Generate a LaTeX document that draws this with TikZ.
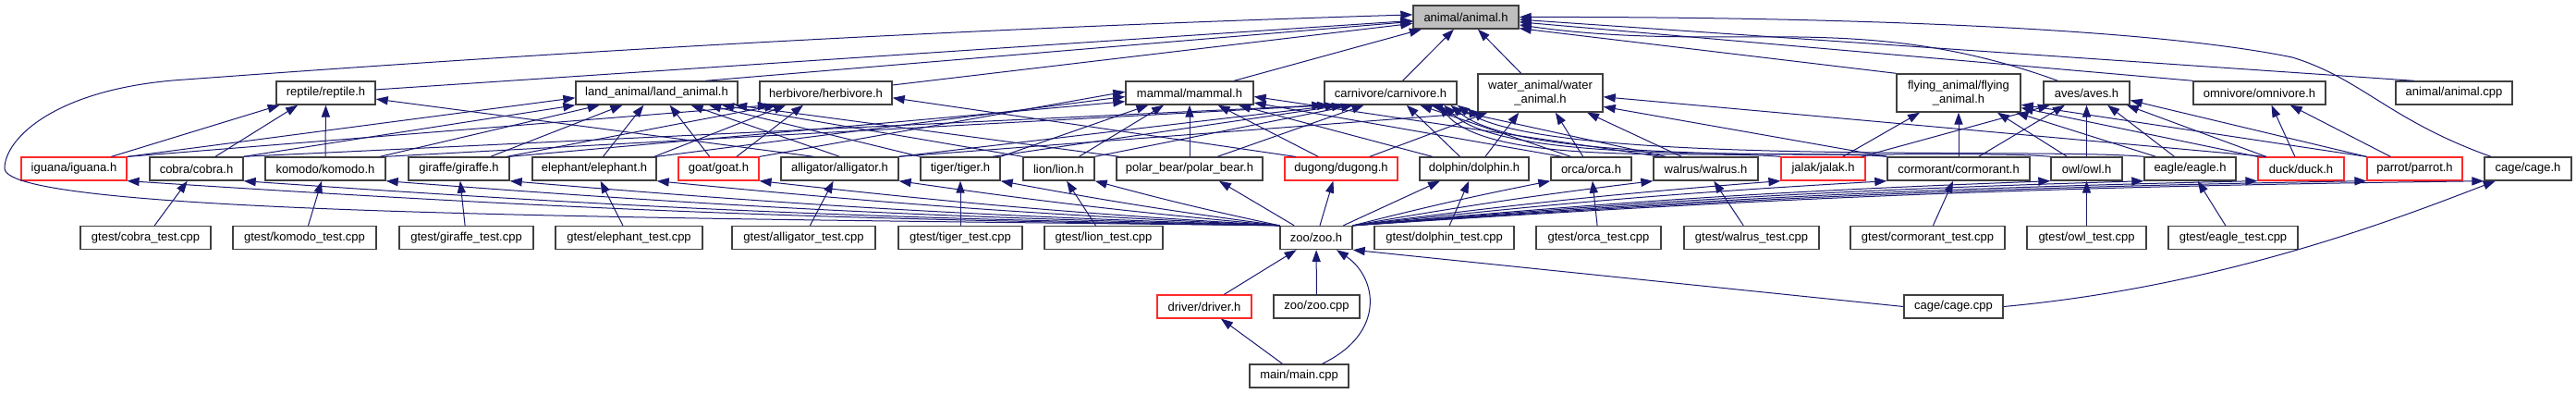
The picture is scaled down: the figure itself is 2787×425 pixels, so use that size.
\documentclass[tikz,border=0pt]{standalone}
\usepackage{fontspec}
\setmainfont{Liberation Sans}
\usetikzlibrary{arrows.meta,calc}
\definecolor{edgeblue}{HTML}{191970}
\definecolor{boxgray}{HTML}{404040}
\definecolor{rootgray}{HTML}{BFBFBF}
\definecolor{boxred}{HTML}{FF2A2A}
\newcommand\upedge[4]{\draw[edge] ($(#1.north west)!#2!(#1.north east)$) -- ($(#3.south west)!#4!(#3.south east)$);}
\tikzset{
  box/.style={draw=boxgray, line width=0.7pt, fill=white, inner sep=0pt, minimum height=12.5pt,
    font=\fontsize{6.5}{7.1}\selectfont, text=black},
  redbox/.style={box, draw=boxred, line width=0.6pt},
  tallbox/.style={box, minimum height=20.5pt, align=center},
  edge/.style={draw=edgeblue, line width=0.5pt, -{Triangle[length=6.5pt,width=4.6pt]}}
}
\begin{document}
\begin{tikzpicture}[x=0.5pt,y=-0.5pt]
\useasboundingbox (0,0) rectangle (2787,425);
% row 1
\node[box, fill=rootgray, minimum width=57pt] (animalh) at (1586,18.5) {animal/animal.h};
% row 2
\node[box, minimum width=53.5pt] (reptile) at (352.5,100.5) {reptile/reptile.h};
\node[box, minimum width=87.5pt] (land) at (710.5,100.5) {land\_animal/land\_animal.h};
\node[box, minimum width=71.5pt] (herb) at (893.5,100.5) {herbivore/herbivore.h};
\node[box, minimum width=69pt] (mammal) at (1287,100.5) {mammal/mammal.h};
\node[box, minimum width=71.5pt] (carn) at (1504.5,100.5) {carnivore/carnivore.h};
\node[tallbox, minimum width=67.5pt] (water) at (1666.5,100.5) {water\_animal/water\\\_animal.h};
\node[tallbox, minimum width=67pt] (flying) at (2119,100.5) {flying\_animal/flying\\\_animal.h};
\node[box, minimum width=46.5pt] (aves) at (2257.5,100.5) {aves/aves.h};
\node[box, minimum width=71.5pt] (omni) at (2444.5,100.5) {omnivore/omnivore.h};
\node[box, minimum width=63pt] (animalcpp) at (2655,100.5) {animal/animal.cpp};
% row 3
\node[redbox, minimum width=57pt] (iguana) at (80,182.5) {iguana/iguana.h};
\node[box, minimum width=50.5pt] (cobra) at (212.5,182.5) {cobra/cobra.h};
\node[box, minimum width=65pt] (komodo) at (352,182.5) {komodo/komodo.h};
\node[box, minimum width=54.5pt] (giraffe) at (496.5,182.5) {giraffe/giraffe.h};
\node[box, minimum width=67pt] (elephant) at (643,182.5) {elephant/elephant.h};
\node[redbox, minimum width=43.5pt] (goat) at (777.5,182.5) {goat/goat.h};
\node[box, minimum width=63.5pt] (alligator) at (908.5,182.5) {alligator/alligator.h};
\node[box, minimum width=43pt] (tiger) at (1039,182.5) {tiger/tiger.h};
\node[box, minimum width=38.5pt] (lion) at (1145.5,182.5) {lion/lion.h};
\node[box, minimum width=79pt] (polar) at (1287,182.5) {polar\_bear/polar\_bear.h};
\node[redbox, minimum width=61pt] (dugong) at (1451,182.5) {dugong/dugong.h};
\node[box, minimum width=59pt] (dolphin) at (1595,182.5) {dolphin/dolphin.h};
\node[box, minimum width=43.5pt] (orca) at (1721.5,182.5) {orca/orca.h};
\node[box, minimum width=56.5pt] (walrus) at (1845.5,182.5) {walrus/walrus.h};
\node[redbox, minimum width=45.5pt] (jalak) at (1972.5,182.5) {jalak/jalak.h};
\node[box, minimum width=77pt] (cormorant) at (2119,182.5) {cormorant/cormorant.h};
\node[box, minimum width=38.5pt] (owl) at (2257.5,182.5) {owl/owl.h};
\node[box, minimum width=49.5pt] (eagle) at (2369.5,182.5) {eagle/eagle.h};
\node[redbox, minimum width=46.5pt] (duck) at (2489.5,182.5) {duck/duck.h};
\node[redbox, minimum width=51.5pt] (parrot) at (2612.5,182.5) {parrot/parrot.h};
\node[box, minimum width=47pt] (cageh) at (2735,182.5) {cage/cage.h};
% row 4
\node[box, minimum width=70.5pt] (tcobra) at (157.5,257) {gtest/cobra\_test.cpp};
\node[box, minimum width=77.5pt] (tkomodo) at (329.5,257) {gtest/komodo\_test.cpp};
\node[box, minimum width=72.5pt] (tgiraffe) at (504.5,257) {gtest/giraffe\_test.cpp};
\node[box, minimum width=79.5pt] (telephant) at (680.5,257) {gtest/elephant\_test.cpp};
\node[box, minimum width=77.5pt] (talligator) at (869.5,257) {gtest/alligator\_test.cpp};
\node[box, minimum width=67pt] (ttiger) at (1039,257) {gtest/tiger\_test.cpp};
\node[box, minimum width=64pt] (tlion) at (1194,257) {gtest/lion\_test.cpp};
\node[box, minimum width=39pt] (zoo) at (1424,257) {zoo/zoo.h};
\node[box, minimum width=75.5pt] (tdolphin) at (1562.5,257) {gtest/dolphin\_test.cpp};
\node[box, minimum width=67.5pt] (torca) at (1729.5,257) {gtest/orca\_test.cpp};
\node[box, minimum width=73pt] (twalrus) at (1895,257) {gtest/walrus\_test.cpp};
\node[box, minimum width=83.5pt] (tcormorant) at (2085.5,257) {gtest/cormorant\_test.cpp};
\node[box, minimum width=64.5pt] (towl) at (2257.5,257) {gtest/owl\_test.cpp};
\node[box, minimum width=70pt] (teagle) at (2416,257) {gtest/eagle\_test.cpp};
% row 5
\node[redbox, minimum width=51pt] (driver) at (1303,331.5) {driver/driver.h};
\node[box, minimum width=46.5pt] (zoocpp) at (1424.5,331.5) {zoo/zoo.cpp};
\node[box, minimum width=53.5pt] (cagecpp) at (2113.5,331.5) {cage/cage.cpp};
% row 6
\node[box, minimum width=53.5pt] (main) at (1405.5,406.5) {main/main.cpp};

% ---- edges to animal.h
\draw[edge] (reptile) -- (animalh);
\draw[edge] ($(land.north west)!0.8!(land.north east)$) -- (animalh);
\draw[edge] (herb) -- (animalh);
\draw[edge] (mammal) -- (animalh);
\draw[edge] (carn) -- (animalh);
\draw[edge] (water) -- (animalh);
\draw[edge] (flying.north west) -- ($(animalh.south east)!0.04!(animalh.north east)$);
\draw[edge] ($(aves.north west)!0.17!(aves.north east)$) to[out=160,in=-8] ($(animalh.south east)!0.18!(animalh.north east)$);
\draw[edge] (omni.north west) -- ($(animalh.south east)!0.3!(animalh.north east)$);
\draw[edge] ($(animalcpp.north west)!0.16!(animalcpp.north east)$) -- ($(animalh.south east)!0.4!(animalh.north east)$);
\draw[edge] ($(cageh.north west)!0.08!(cageh.north east)$) .. controls (2585,130) and (2555,85) .. (2480,62)
  .. controls (2300,25) and (1900,18) .. ($(animalh.south east)!0.5!(animalh.north east)$);
\draw[edge] (zoo.north west) .. controls (700,236) and (5,232) .. (5,182)
  .. controls (5,150) and (60,95) .. (200,86)
  .. controls (420,70) and (900,35) .. ($(animalh.south west)!0.6!(animalh.north west)$);

% ---- reptile
\upedge{iguana}{0.85}{reptile}{0.04}
\upedge{cobra}{0.70}{reptile}{0.22}
\upedge{komodo}{0.5}{reptile}{0.5}
\draw[edge] ($(alligator.north west)!0.28!(alligator.north east)$) -- ($(reptile.south east)!0.25!(reptile.north east)$);
% ---- land animal
\draw[edge] (iguana.north east) -- ($(land.south west)!0.3!(land.north west)$);
\upedge{cobra}{1}{land}{0}
\upedge{komodo}{0.95}{land}{0.15}
\upedge{giraffe}{0.81}{land}{0.29}
\upedge{elephant}{0.57}{land}{0.42}
\upedge{goat}{0.39}{land}{0.58}
\upedge{alligator}{0.5}{land}{0.71}
\upedge{tiger}{0.0}{land}{0.82}
\upedge{lion}{0.0}{land}{0.90}
\upedge{polar}{0.02}{land}{0.98}
% ---- herbivore
\upedge{iguana}{1}{herb}{0.08}
\upedge{giraffe}{0.97}{herb}{0.13}
\upedge{elephant}{0.98}{herb}{0.2}
\upedge{goat}{0.72}{herb}{0.33}
\draw[edge] ($(dugong.north west)!0.1!(dugong.north east)$) -- ($(herb.south east)!0.3!(herb.north east)$);
% ---- mammal
\draw[edge] (giraffe.north east) -- ($(mammal.south west)!0.15!(mammal.north west)$);
\draw[edge] (elephant.north east) -- ($(mammal.south west)!0.35!(mammal.north west)$);
\draw[edge] (goat.north east) -- ($(mammal.south west)!0.55!(mammal.north west)$);
\upedge{tiger}{1}{mammal}{0.18}
\upedge{lion}{0.78}{mammal}{0.30}
\upedge{polar}{0.5}{mammal}{0.5}
\upedge{dugong}{0.30}{mammal}{0.72}
\upedge{dolphin}{0.12}{mammal}{0.88}
\draw[edge] ($(orca.north west)!0.14!(orca.north east)$) -- ($(mammal.south east)!0.1!(mammal.north east)$);
\draw[edge] ($(walrus.north west)!0.07!(walrus.north east)$) -- ($(mammal.south east)!0.35!(mammal.north east)$);
% ---- carnivore
\upedge{cobra}{1}{carn}{0}
\upedge{komodo}{1}{carn}{0.04}
\upedge{alligator}{1}{carn}{0.1}
\upedge{tiger}{0.9}{carn}{0.15}
\upedge{lion}{1}{carn}{0.22}
\upedge{polar}{0.69}{carn}{0.3}
\upedge{dolphin}{0.37}{carn}{0.62}
\upedge{orca}{0.25}{carn}{0.72}
\upedge{walrus}{0.12}{carn}{0.8}
\draw[edge] (jalak.north west) to[out=175,in=-50,looseness=0.6] ($(carn.south west)!0.86!(carn.south east)$);
\draw[edge] (cormorant.north west) to[out=175,in=-45,looseness=0.5] ($(carn.south west)!0.9!(carn.south east)$);
\draw[edge] (owl.north west) to[out=175,in=-40,looseness=0.45] ($(carn.south west)!0.95!(carn.south east)$);
\draw[edge] (eagle.north west) to[out=175,in=-35,looseness=0.4] (carn.south east);
% ---- water animal
\draw[edge] (alligator.north east) -- ($(water.south west)!0.03!(water.south east)$);
\upedge{dugong}{0.75}{water}{0.08}
\upedge{dolphin}{0.6}{water}{0.33}
\upedge{orca}{0.4}{water}{0.62}
\upedge{walrus}{0.27}{water}{0.87}
\draw[edge] (cormorant.north west) -- ($(water.south east)!0.15!(water.north east)$);
\draw[edge] ($(duck.north west)!0.1!(duck.north east)$) -- ($(water.south east)!0.4!(water.north east)$);
% ---- flying animal
\upedge{jalak}{0.73}{flying}{0.19}
\upedge{cormorant}{0.5}{flying}{0.5}
\upedge{owl}{0.23}{flying}{0.81}
\upedge{eagle}{0.13}{flying}{0.96}
\draw[edge] (duck.north west) -- ($(flying.south east)!0.12!(flying.north east)$);
\draw[edge] (parrot.north west) -- ($(flying.south east)!0.2!(flying.north east)$);
% ---- aves
\upedge{jalak}{0.95}{aves}{0.08}
\upedge{cormorant}{0.64}{aves}{0.25}
\upedge{owl}{0.5}{aves}{0.5}
\upedge{eagle}{0.33}{aves}{0.74}
\upedge{duck}{0.1}{aves}{0.96}
\draw[edge] (parrot.north west) -- ($(aves.south east)!0.2!(aves.north east)$);
% ---- omnivore
\upedge{duck}{0.43}{omni}{0.59}
\upedge{parrot}{0.25}{omni}{0.73}
% ---- tests
\foreach \a/\b in {tcobra/cobra,tkomodo/komodo,tgiraffe/giraffe,telephant/elephant,talligator/alligator,
  ttiger/tiger,tlion/lion,tdolphin/dolphin,torca/orca,twalrus/walrus,tcormorant/cormorant,towl/owl,teagle/eagle}
  \draw[edge] (\a) -- (\b);
% ---- zoo.h includes
\foreach \n in {iguana,cobra,komodo,giraffe,elephant,goat,alligator,tiger,lion}
  \draw[edge] (zoo.north west) to[bend left=1.5] (\n.south east);
\foreach \n in {orca,walrus,jalak,cormorant,owl,eagle,duck,parrot,cageh}
  \draw[edge] (zoo.north east) to[bend left=1.5] (\n.south west);
\draw[edge] ($(zoo.north west)!0.2!(zoo.north east)$) -- ($(polar.south west)!0.7!(polar.south east)$);
\draw[edge] ($(zoo.north west)!0.55!(zoo.north east)$) -- ($(dugong.south west)!0.43!(dugong.south east)$);
\draw[edge] ($(zoo.north west)!0.87!(zoo.north east)$) -- ($(dolphin.south west)!0.19!(dolphin.south east)$);
% ---- lower part
\draw[edge] (driver) -- (zoo);
\draw[edge] (zoocpp) -- (zoo);
\draw[edge] (main) -- (driver);
\draw[edge] ($(main.north)+(25,0)$) .. controls (1500,360) and (1490,300) .. ($(zoo.south)+(22,0)$);
\draw[edge] (cagecpp.west) -- (zoo.south east);
\draw[edge] (cagecpp.east) .. controls (2400,310) and (2585,240) .. ($(cageh.south west)!0.13!(cageh.south east)$);
\end{tikzpicture}
\end{document}
